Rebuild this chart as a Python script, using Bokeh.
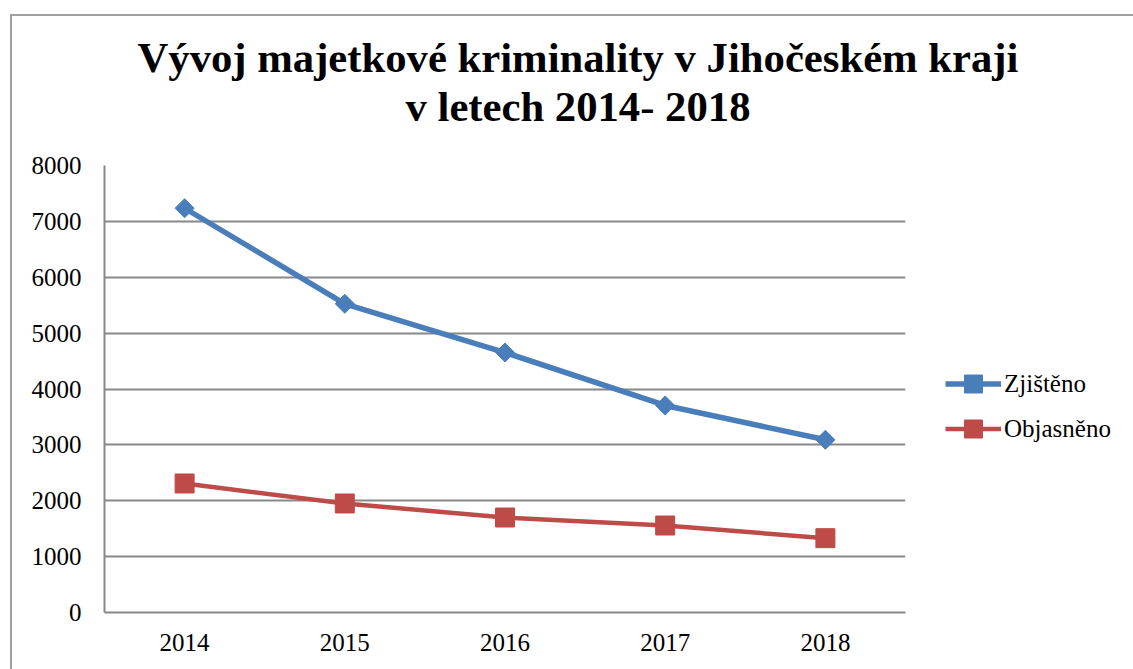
from bokeh.plotting import figure
from bokeh.models import (FactorRange, Range1d, FixedTicker, Legend, LegendItem,
                          Title, InlineStyleSheet)
from bokeh.embed import file_html
from bokeh.resources import INLINE

years = ["2014", "2015", "2016", "2017", "2018"]
zjisteno = [7235, 5525, 4653, 3705, 3091]
objasneno = [2309, 1951, 1700, 1557, 1330]
y_ticks = [0, 1000, 2000, 3000, 4000, 5000, 6000, 7000, 8000]
title_lines = ["Vývoj majetkové kriminality v Jihočeském kraji", "v letech 2014- 2018"]
series_names = ["Zjištěno", "Objasněno"]

W, H = 1133, 669
FONT = "Liberation Serif"

p = figure(frame_width=801, frame_height=447, output_backend="svg", toolbar_location=None,
           x_range=FactorRange(*years, range_padding=0),
           y_range=Range1d(0, 8000),
           min_border_left=104, min_border_right=W - 905,
           min_border_top=165, min_border_bottom=H - 612)
p.outline_line_color = None
p.background_fill_color = "white"
p.border_fill_color = "white"

# outer chart border (left + top edges visible in the reference)
p.stylesheets = [InlineStyleSheet(css=""":host::after {
  content: ""; position: absolute; left: 10px; top: 14px; right: 0; bottom: 0;
  border-left: 2px solid #A0A0A0; border-top: 2px solid #A0A0A0;
  pointer-events: none; z-index: 10;
}""")]

p.xgrid.grid_line_color = None
p.ygrid.grid_line_color = "#888888"
p.ygrid.grid_line_width = 2

p.yaxis.ticker = FixedTicker(ticks=y_ticks)
for ax in (p.xaxis, p.yaxis):
    ax.axis_line_color = "#888888"
    ax.axis_line_width = 2
    ax.major_tick_line_color = None
    ax.minor_tick_line_color = None
    ax.major_label_text_font = FONT
    ax.major_label_text_font_size = "25px"
    ax.major_label_text_color = "black"
p.yaxis.major_label_standoff = 17
p.xaxis.major_label_standoff = 15

r1 = p.line(years, zjisteno, line_color="#4A7EBB", line_width=5.5)
m1 = p.scatter(years, zjisteno, marker="square", angle=0.785398, size=13.5,
               fill_color="#4A7EBB", line_color="#4A7EBB")
r2 = p.line(years, objasneno, line_color="#BE4B48", line_width=4.5)
m2 = p.scatter(years, objasneno, marker="square", size=19,
               fill_color="#BE4B48", line_color="#BE4B48")

legend = Legend(items=[LegendItem(label=series_names[0], renderers=[r1, m1]),
                       LegendItem(label=series_names[1], renderers=[r2, m2])],
                location=(40, 161), padding=0, margin=0, spacing=0,
                glyph_width=56, glyph_height=45, label_height=45, label_standoff=3,
                label_text_font=FONT, label_text_font_size="25px",
                label_text_color="black", border_line_alpha=0,
                background_fill_alpha=0)
p.add_layout(legend, "right")

# title: first line is the outer panel, second line sits nearest the frame
p.title = Title(text=title_lines[0], align="left", offset=33, standoff=-72,
                text_font=FONT, text_font_style="bold", text_font_size="42.7px",
                text_color="black")
p.add_layout(Title(text=title_lines[1], align="left", offset=301, standoff=72,
                   text_font=FONT, text_font_style="bold", text_font_size="42.7px",
                   text_color="black"), "above")

open("out.html", "w").write(file_html(p, INLINE))
